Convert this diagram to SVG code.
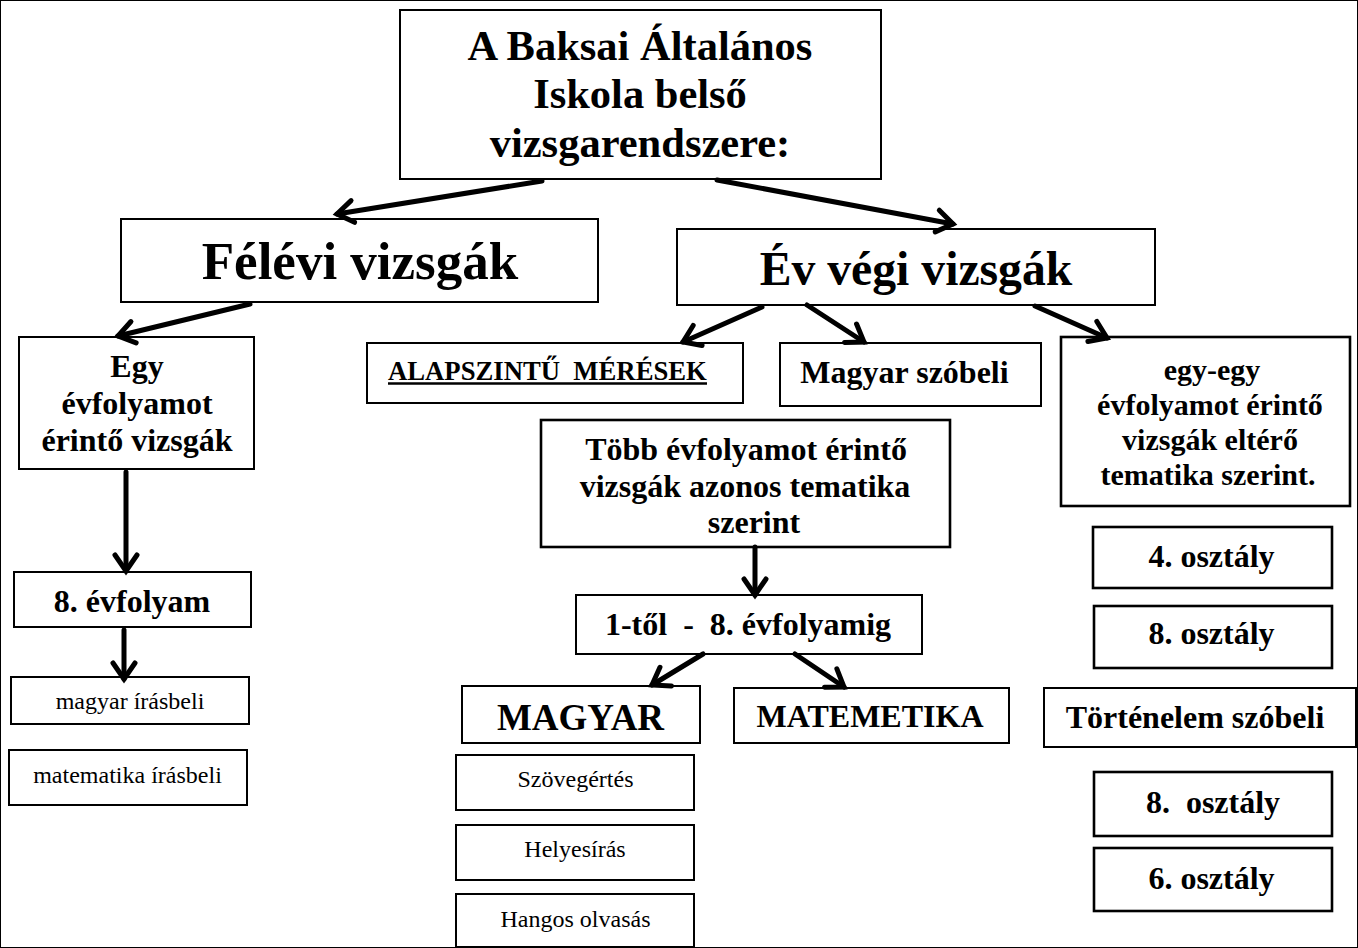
<svg xmlns="http://www.w3.org/2000/svg" width="1358" height="948" viewBox="0 0 1358 948">
<defs>
<style>
rect{fill:#fff;stroke:#000;stroke-width:2}
rect.thick{stroke-width:2.6}
text{font-family:"Liberation Serif","Times New Roman",serif;fill:#000;text-anchor:middle}
text.b{font-weight:bold}
text.pre{white-space:pre}
.conn line{stroke:#000;stroke-width:5;stroke-linecap:round;marker-end:url(#arr)}
</style>
<marker id="arr" viewBox="0 0 24 24" refX="20" refY="12" markerWidth="24" markerHeight="24" markerUnits="userSpaceOnUse" orient="auto" overflow="visible">
<path d="M4,1 L20,12 L4,23" fill="none" stroke="#000" stroke-width="5" stroke-linecap="round" stroke-linejoin="miter"/>
</marker>
</defs>
<rect width="1358" height="948" fill="#fff" stroke="none"/>

<g id="title">
<rect x="400" y="10" width="481" height="169"/>
<text class="b" x="640" y="60" font-size="42.5">A Baksai Általános</text>
<text class="b" x="640" y="108" font-size="42.5">Iskola belső</text>
<text class="b" x="640" y="157" font-size="42.5">vizsgarendszere:</text>
</g>
<g id="felevi">
<rect x="121" y="219" width="477" height="83"/>
<text class="b" x="360" y="279" font-size="53">Félévi vizsgák</text>
</g>
<g id="evvegi">
<rect x="677" y="229" width="478" height="76"/>
<text class="b" x="916" y="285" font-size="47.7">Év végi vizsgák</text>
</g>
<g id="egy">
<rect x="19" y="337" width="235" height="132"/>
<text class="b" x="137" y="377" font-size="32">Egy</text>
<text class="b" x="137" y="414" font-size="32">évfolyamot</text>
<text class="b" x="137" y="451" font-size="32">érintő vizsgák</text>
</g>
<g id="evf8">
<rect x="14" y="572" width="237" height="55"/>
<text class="b" x="132" y="612" font-size="32">8. évfolyam</text>
</g>
<g id="magyarir">
<rect x="11" y="677" width="238" height="47"/>
<text x="130" y="709" font-size="24">magyar írásbeli</text>
</g>
<g id="matir">
<rect x="9" y="750" width="238" height="55"/>
<text x="127.5" y="783" font-size="24">matematika írásbeli</text>
</g>
<g id="alap">
<rect x="367" y="343" width="376" height="60"/>
<text class="b pre" x="388" y="380" font-size="26.7" style="text-anchor:start">ALAPSZINTŰ  MÉRÉSEK</text>
<line x1="388" y1="383.5" x2="707" y2="383.5" stroke="#000" stroke-width="2.6"/>
</g>
<g id="magyarszo">
<rect x="780" y="343" width="261" height="63"/>
<text class="b" x="904.5" y="383" font-size="32">Magyar szóbeli</text>
</g>
<g id="tobb">
<rect class="thick" x="541" y="420" width="409" height="127"/>
<text class="b" x="746" y="460" font-size="32">Több évfolyamot érintő</text>
<text class="b" x="745" y="496.5" font-size="32">vizsgák azonos tematika</text>
<text class="b" x="754" y="533" font-size="32">szerint</text>
</g>
<g id="egyegy">
<rect class="thick" x="1061" y="337" width="289" height="169"/>
<text class="b" x="1212" y="380" font-size="30">egy-egy</text>
<text class="b" x="1210" y="415" font-size="30">évfolyamot érintő</text>
<text class="b" x="1210" y="450" font-size="30">vizsgák eltérő</text>
<text class="b" x="1208" y="485" font-size="30">tematika szerint.</text>
</g>
<g id="o4">
<rect class="thick" x="1093" y="527" width="239" height="61"/>
<text class="b" x="1211.5" y="567" font-size="32">4. osztály</text>
</g>
<g id="o8a">
<rect class="thick" x="1094" y="606" width="238" height="62"/>
<text class="b" x="1211.5" y="644" font-size="32">8. osztály</text>
</g>
<g id="tort">
<rect x="1044" y="688" width="312" height="59"/>
<text class="b" x="1195" y="728" font-size="32">Történelem szóbeli</text>
</g>
<g id="o8b">
<rect class="thick" x="1094" y="772" width="238" height="64"/>
<text class="b pre" x="1213" y="813" font-size="32">8.  osztály</text>
</g>
<g id="o6">
<rect class="thick" x="1094" y="848" width="238" height="63"/>
<text class="b" x="1211.5" y="889" font-size="32">6. osztály</text>
</g>
<g id="tol">
<rect x="576" y="595" width="346" height="59"/>
<text class="b pre" x="748" y="635" font-size="32">1-től  -  8. évfolyamig</text>
</g>
<g id="magyar">
<rect x="462" y="686" width="238" height="57"/>
<text class="b" x="580.5" y="730" font-size="37">MAGYAR</text>
</g>
<g id="matem">
<rect x="734" y="688" width="275" height="55"/>
<text class="b" x="870" y="727" font-size="32">MATEMETIKA</text>
</g>
<g id="szov">
<rect x="456" y="755" width="238" height="55"/>
<text x="575.5" y="787" font-size="24">Szövegértés</text>
</g>
<g id="helyes">
<rect x="456" y="825" width="238" height="55"/>
<text x="575" y="857" font-size="24">Helyesírás</text>
</g>
<g id="hangos">
<rect x="456" y="894" width="238" height="53"/>
<text x="575.5" y="927" font-size="24">Hangos olvasás</text>
</g>

<g id="connectors" class="conn">
<line x1="542" y1="181" x2="337" y2="214"/>
<line x1="717" y1="180" x2="953" y2="224"/>
<line x1="250" y1="304" x2="118" y2="336"/>
<line x1="762" y1="307" x2="683" y2="342"/>
<line x1="807" y1="305" x2="864" y2="342"/>
<line x1="1035" y1="306" x2="1107" y2="338"/>
<line x1="126" y1="472" x2="126" y2="571"/>
<line x1="124" y1="630" x2="124" y2="679"/>
<line x1="755" y1="547" x2="755" y2="595"/>
<line x1="703" y1="654" x2="652" y2="685"/>
<line x1="795" y1="654" x2="844" y2="687"/>
</g>
</svg>
